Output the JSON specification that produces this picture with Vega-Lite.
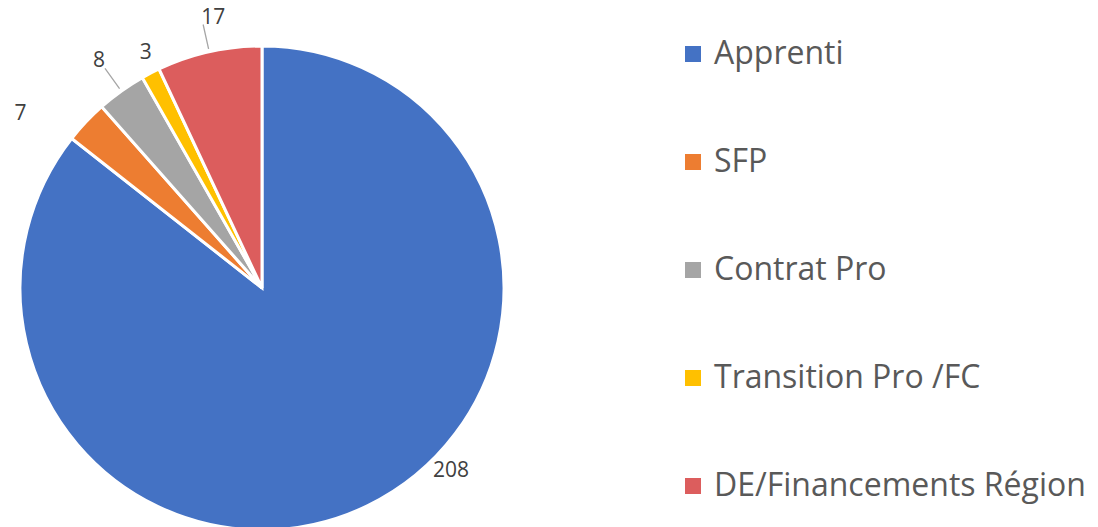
{
  "$schema": "https://vega.github.io/schema/vega-lite/v6.json",
  "width": 524,
  "height": 576,
  "autosize": "none",
  "padding": {"left": 0, "top": 0, "right": 574, "bottom": 0},
  "background": "white",
  "config": {"view": {"stroke": null}, "font": "Open Sans"},
  "data": {"values": [
    {"cat": "Apprenti", "value": 208, "order": 1},
    {"cat": "SFP", "value": 7, "order": 2},
    {"cat": "Contrat Pro", "value": 8, "order": 3},
    {"cat": "Transition Pro /FC", "value": 3, "order": 4},
    {"cat": "DE/Financements Région", "value": 17, "order": 5}
  ]},
  "encoding": {
    "theta": {"field": "value", "type": "quantitative", "stack": true},
    "order": {"field": "order", "type": "quantitative", "sort": "ascending"}
  },
  "layer": [
    {
      "mark": {"type": "arc", "outerRadius": 242, "stroke": "white", "strokeWidth": 3},
      "encoding": {
        "color": {
          "field": "cat", "type": "nominal",
          "scale": {
            "domain": ["Apprenti", "SFP", "Contrat Pro", "Transition Pro /FC", "DE/Financements Région"],
            "range": ["#4472C4", "#ED7D31", "#A5A5A5", "#FFC000", "#DC5D5D"]
          },
          "legend": {
            "title": null,
            "orient": "none",
            "legendX": 677,
            "legendY": 38,
            "symbolType": "square",
            "symbolSize": 256,
            "symbolStrokeWidth": 0,
            "labelFontSize": 32,
            "labelColor": "#595959",
            "labelOffset": 5,
            "rowPadding": 76,
            "labelLimit": 600
          }
        }
      }
    },
    {
      "mark": {"type": "arc", "innerRadius": 245, "outerRadius": 270, "padAngle": 3, "fill": null, "stroke": "#A6A6A6", "strokeWidth": 1.3},
      "encoding": {"strokeOpacity": {"condition": {"test": "datum.cat === 'Contrat Pro' || datum.cat === 'DE/Financements Région'", "value": 1}, "value": 0}}
    },
    {
      "mark": {"type": "text", "radius": 270, "dx": 71, "dy": -60, "fontSize": 21, "color": "#404040", "align": "center", "baseline": "middle"},
      "encoding": {"text": {"field": "value"}, "opacity": {"condition": {"test": "datum.cat === 'Apprenti'", "value": 1}, "value": 0}}
    },
    {
      "mark": {"type": "text", "radius": 270, "dx": -45, "dy": 11, "fontSize": 21, "color": "#404040", "align": "center", "baseline": "middle"},
      "encoding": {"text": {"field": "value"}, "opacity": {"condition": {"test": "datum.cat === 'SFP'", "value": 1}, "value": 0}}
    },
    {
      "mark": {"type": "text", "radius": 270, "dx": -6, "dy": -7, "fontSize": 21, "color": "#404040", "align": "center", "baseline": "middle"},
      "encoding": {"text": {"field": "value"}, "opacity": {"condition": {"test": "datum.cat === 'Contrat Pro'", "value": 1}, "value": 0}}
    },
    {
      "mark": {"type": "text", "radius": 270, "dx": 8, "dy": 5, "fontSize": 21, "color": "#404040", "align": "center", "baseline": "middle"},
      "encoding": {"text": {"field": "value"}, "opacity": {"condition": {"test": "datum.cat === 'Transition Pro /FC'", "value": 1}, "value": 0}}
    },
    {
      "mark": {"type": "text", "radius": 270, "dx": 10, "dy": -6, "fontSize": 21, "color": "#404040", "align": "center", "baseline": "middle"},
      "encoding": {"text": {"field": "value"}, "opacity": {"condition": {"test": "datum.cat === 'DE/Financements Région'", "value": 1}, "value": 0}}
    }
  ]
}
